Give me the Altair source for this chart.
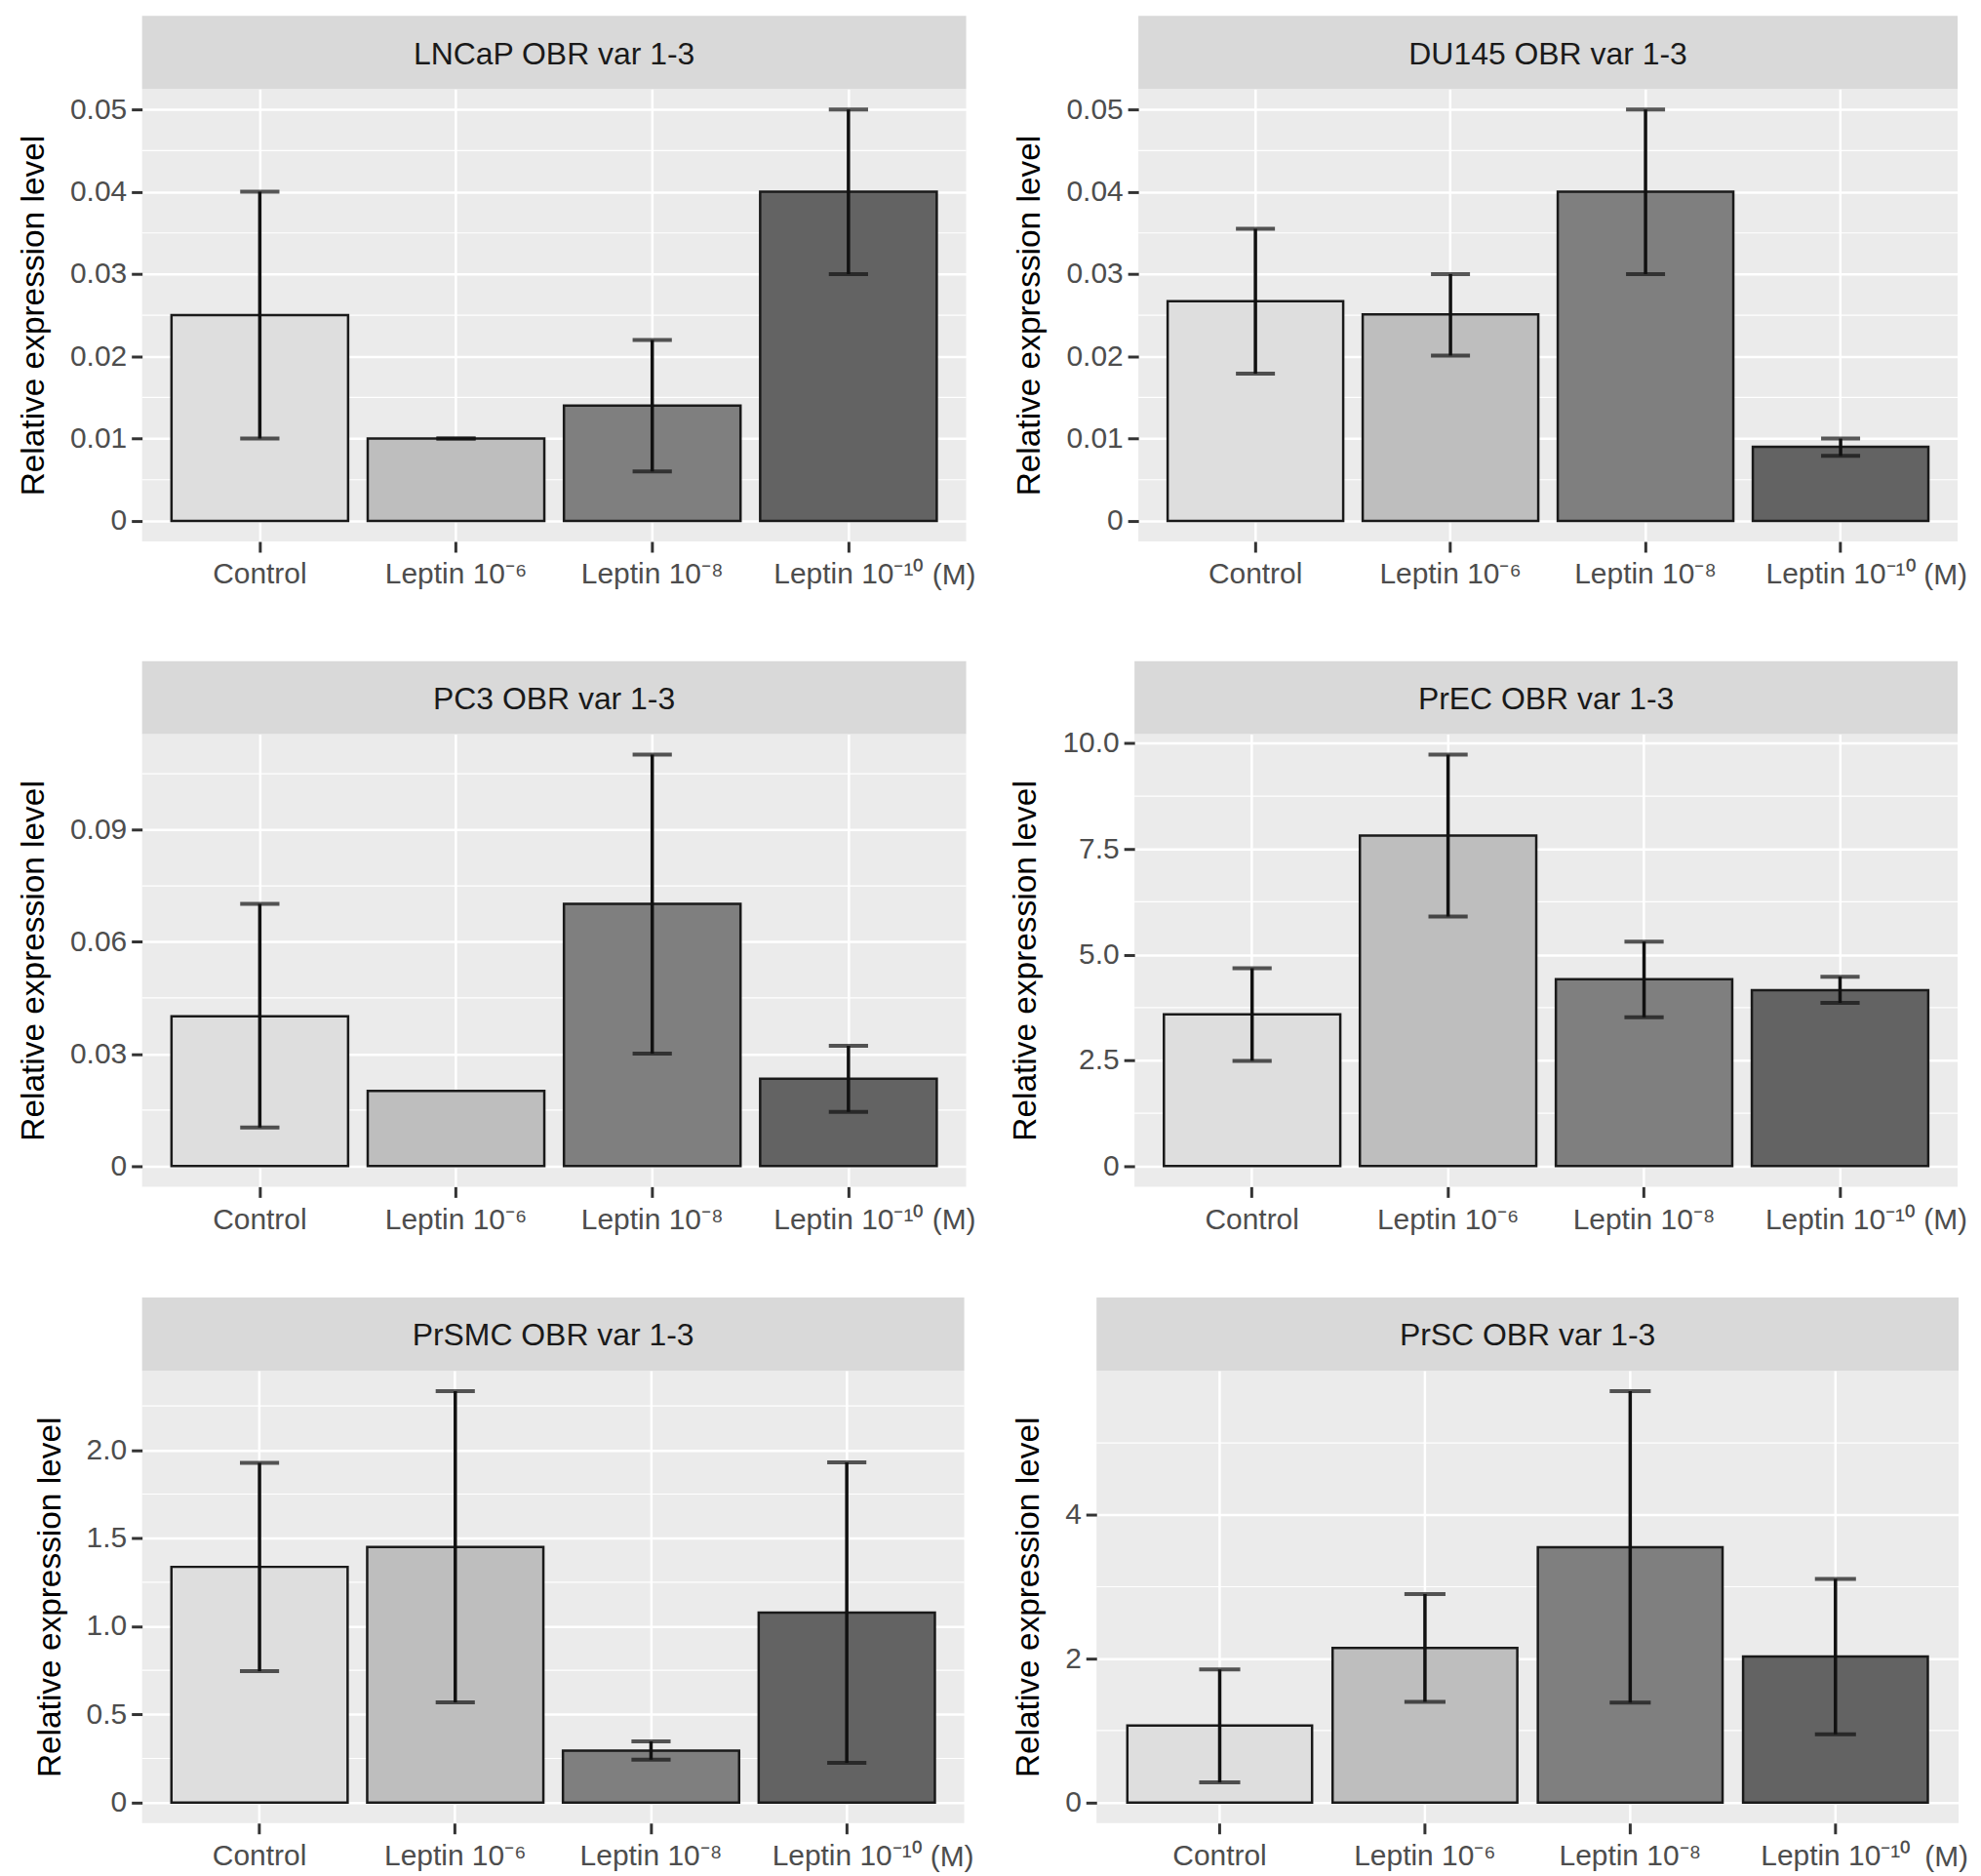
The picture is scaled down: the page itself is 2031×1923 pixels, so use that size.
import altair as alt
import pandas as pd

categories = ["Control", "Leptin 10⁻⁶", "Leptin 10⁻⁸", "Leptin 10⁻¹⁰"]
fill_colors = ["#DEDEDE", "#BEBEBE", "#7F7F7F", "#636363"]
unit_label = "(M)"
y_title = "Relative expression level"

# LNCaP
lncap_title = "LNCaP OBR var 1-3"
lncap_mean = [0.025, 0.010, 0.014, 0.040]
lncap_lo = [0.010, 0.010, 0.006, 0.030]
lncap_hi = [0.040, 0.010, 0.022, 0.050]
lncap_ticks = [0, 0.01, 0.02, 0.03, 0.04, 0.05]

# DU145
du145_title = "DU145 OBR var 1-3"
du145_mean = [0.0267, 0.0251, 0.040, 0.0090]
du145_lo = [0.0179, 0.0201, 0.030, 0.0079]
du145_hi = [0.0355, 0.0300, 0.050, 0.0100]
du145_ticks = [0, 0.01, 0.02, 0.03, 0.04, 0.05]

# PC3
pc3_title = "PC3 OBR var 1-3"
pc3_mean = [0.0401, 0.0201, 0.0702, 0.0234]
pc3_lo = [0.0103, None, 0.0301, 0.0145]
pc3_hi = [0.0702, None, 0.1101, 0.0322]
pc3_ticks = [0, 0.03, 0.06, 0.09]

# PrEC
prec_title = "PrEC OBR var 1-3"
prec_mean = [3.59, 7.82, 4.42, 4.16]
prec_lo = [2.49, 5.90, 3.52, 3.86]
prec_hi = [4.68, 9.73, 5.31, 4.48]
prec_ticks = [0, 2.5, 5.0, 7.5, 10.0]

# PrSMC
prsmc_title = "PrSMC OBR var 1-3"
prsmc_mean = [1.337, 1.450, 0.294, 1.078]
prsmc_lo = [0.745, 0.568, 0.243, 0.225]
prsmc_hi = [1.927, 2.334, 0.347, 1.930]
prsmc_ticks = [0, 0.5, 1.0, 1.5, 2.0]

# PrSC
prsc_title = "PrSC OBR var 1-3"
prsc_mean = [1.07, 2.15, 3.55, 2.03]
prsc_lo = [0.28, 1.40, 1.39, 0.95]
prsc_hi = [1.85, 2.90, 5.72, 3.11]
prsc_ticks = [0, 2, 4]

FONT = "Liberation Sans"
PLOT_H = 465
STRIP_H = 75


def panel(title, mean, lo, hi, ticks, fmt, width, height=PLOT_H):
    df = pd.DataFrame({"cat": categories, "mean": mean, "lo": lo, "hi": hi})
    err = df.dropna(subset=["lo", "hi"])
    top = max([v for v in hi if v is not None] + list(mean))
    dmin, dmax = -0.05 * top, 1.05 * top
    step = ticks[1] - ticks[0]
    minors = [t + step / 2 for t in ticks[:-1]]
    if ticks[-1] + step / 2 < dmax:
        minors.append(ticks[-1] + step / 2)
    minor_df = pd.DataFrame({"v": minors})

    xscale = alt.Scale(domain=categories, paddingInner=0.1, paddingOuter=0.15)
    xaxis = alt.Axis(title=None, labelAngle=0, grid=True, bandPosition=0.5,
                     labelPadding=8)
    yscale = alt.Scale(domain=[dmin, dmax], nice=False, zero=False)
    yaxis = alt.Axis(title=y_title, values=ticks, grid=True,
                     labelExpr=f"datum.value == 0 ? '0' : format(datum.value, '{fmt}')")

    X = alt.X("cat:N", sort=categories, scale=xscale, axis=xaxis)
    cap_w = 0.2 * width / 4.2

    minor = alt.Chart(minor_df).mark_rule(color="white", strokeWidth=1.2).encode(
        y=alt.Y("v:Q", scale=yscale, axis=yaxis)
    )
    bars = alt.Chart(df).mark_bar(stroke="#1a1a1a", strokeWidth=2.5).encode(
        x=X,
        y=alt.Y("mean:Q", scale=yscale, axis=yaxis),
        y2=alt.datum(0),
        fill=alt.Fill("cat:N", scale=alt.Scale(domain=categories, range=fill_colors), legend=None),
    )
    rules = alt.Chart(err).mark_rule(color="#111111", strokeWidth=3.5).encode(
        x=X,
        y=alt.Y("lo:Q", scale=yscale, axis=yaxis),
        y2="hi:Q",
    )
    cap_lo = alt.Chart(err).mark_tick(color="#111111", orient="horizontal",
                                      size=cap_w, thickness=4).encode(
        x=X, y=alt.Y("lo:Q", scale=yscale, axis=yaxis))
    cap_hi = alt.Chart(err).mark_tick(color="#111111", orient="horizontal",
                                      size=cap_w, thickness=4).encode(
        x=X, y=alt.Y("hi:Q", scale=yscale, axis=yaxis))

    tdf = pd.DataFrame({"t": [title]})
    strip = alt.Chart(tdf).mark_rect(fill="#D9D9D9").encode(
        x=alt.value(0), x2=alt.value(width), y=alt.value(-STRIP_H), y2=alt.value(0)
    )
    strip_text = alt.Chart(tdf).mark_text(
        fontSize=32, color="#1A1A1A", font=FONT, align="center", baseline="middle"
    ).encode(text="t:N", x=alt.value(width / 2), y=alt.value(-STRIP_H / 2 + 2))

    mdf = pd.DataFrame({"t": [unit_label]})
    unit = alt.Chart(mdf).mark_text(
        fontSize=30, color="#4D4D4D", font=FONT, align="right", baseline="top"
    ).encode(text="t:N", x=alt.value(width + 10), y=alt.value(height + 20))

    return alt.layer(minor, bars, rules, cap_lo, cap_hi, strip, strip_text, unit).properties(
        width=width, height=height
    )


p1 = panel(lncap_title, lncap_mean, lncap_lo, lncap_hi, lncap_ticks, ".2f", 847)
p2 = panel(du145_title, du145_mean, du145_lo, du145_hi, du145_ticks, ".2f", 842)
p3 = panel(pc3_title, pc3_mean, pc3_lo, pc3_hi, pc3_ticks, ".2f", 847)
p4 = panel(prec_title, prec_mean, prec_lo, prec_hi, prec_ticks, ".1f", 846)
p5 = panel(prsmc_title, prsmc_mean, prsmc_lo, prsmc_hi, prsmc_ticks, ".1f", 845)
p6 = panel(prsc_title, prsc_mean, prsc_lo, prsc_hi, prsc_ticks, ".0f", 886)

row1 = alt.hconcat(p1, p2, spacing=38)
row2 = alt.hconcat(p3, p4, spacing=34)
row3 = alt.hconcat(p5, p6, spacing=39)

top_rows = alt.vconcat(row1, row2, spacing=73)

chart = alt.vconcat(top_rows, row3, spacing=64).properties(
    padding={"left": 9, "top": 6, "right": 5, "bottom": 5},
    background="white",
).configure_view(
    fill="#EBEBEB", stroke=None
).configure_axis(
    domain=False,
    tickColor="#333333",
    tickWidth=3,
    tickSize=11,
    labelFont=FONT,
    labelFontSize=30,
    labelColor="#4D4D4D",
    labelPadding=5,
    gridColor="white",
    gridWidth=2.5,
    titleFont=FONT,
    titleFontSize=33.5,
    titleFontWeight="normal",
    titleColor="black",
    titlePadding=20,
).configure_text(font=FONT)

chart.save("out.html", embed_options={"renderer": "svg", "actions": False})
